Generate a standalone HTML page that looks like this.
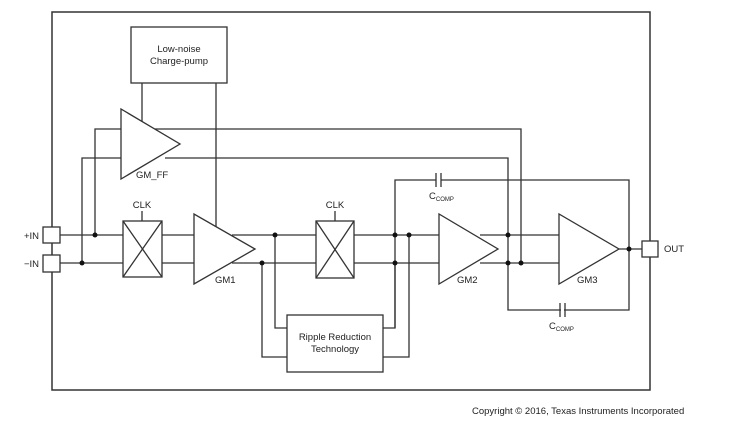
<!DOCTYPE html>
<html><head><style>body{margin:0;background:#fff}svg{display:block}text{font-family:"Liberation Sans",sans-serif;fill:#222}</style></head><body>
<svg width="734" height="437" viewBox="0 0 734 437" xmlns="http://www.w3.org/2000/svg">
<g fill="none" stroke="#333" stroke-width="1.3">
<rect x="52" y="12" width="598" height="378" stroke-width="1.5"/>
<rect x="131" y="27" width="96" height="56"/>
<line x1="142" y1="83" x2="142" y2="121"/>
<line x1="216" y1="83" x2="216" y2="228"/>
<!-- GM_FF -->
<polygon points="121,109 121,179 180,144" fill="#fff"/>
<polyline points="95,235 95,129 121,129"/>
<polyline points="82,263 82,158 121,158"/>
<polyline points="155,129 521,129 521,263"/>
<polyline points="165,158 508,158 508,310 629,310 629,249"/>
<!-- inputs -->
<line x1="60" y1="235" x2="123" y2="235"/>
<line x1="60" y1="263" x2="123" y2="263"/>
<rect x="43" y="227" width="17" height="16" fill="#fff"/>
<rect x="43" y="255" width="17" height="17" fill="#fff"/>
<!-- CLK1 -->
<rect x="123" y="221" width="39" height="56"/>
<line x1="123" y1="221" x2="162" y2="277"/><line x1="162" y1="221" x2="123" y2="277"/>
<line x1="142" y1="211" x2="142" y2="221"/>
<line x1="162" y1="235" x2="194" y2="235"/><line x1="162" y1="263" x2="194" y2="263"/>
<!-- GM1 -->
<polygon points="194,214 194,284 255,249" fill="#fff"/>
<line x1="232" y1="235" x2="316" y2="235"/><line x1="232" y1="263" x2="316" y2="263"/>
<polyline points="275,235 275,328 287,328"/>
<polyline points="262,263 262,357 287,357"/>
<!-- CLK2 -->
<rect x="316" y="221" width="38" height="57"/>
<line x1="316" y1="221" x2="354" y2="278"/><line x1="354" y1="221" x2="316" y2="278"/>
<line x1="335" y1="211" x2="335" y2="221"/>
<line x1="354" y1="235" x2="439" y2="235"/><line x1="354" y1="263" x2="439" y2="263"/>
<polyline points="383,328 395,328 395,180 436,180"/>
<polyline points="441,180 629,180 629,249"/>
<line x1="436" y1="173" x2="436" y2="187"/><line x1="441" y1="173" x2="441" y2="187"/>
<polyline points="383,357 409,357 409,235"/>
<line x1="395" y1="263" x2="395" y2="328"/>
<rect x="287" y="315" width="96" height="57"/>
<!-- GM2 -->
<polygon points="439,214 439,284 498,249" fill="#fff"/>
<line x1="480" y1="235" x2="559" y2="235"/><line x1="480" y1="263" x2="559" y2="263"/>
<polygon points="559,214 559,284 619,249" fill="#fff"/>
<line x1="619" y1="249" x2="642" y2="249"/>
<rect x="642" y="241" width="16" height="16" fill="#fff"/>
<line x1="560" y1="303" x2="560" y2="317" /><line x1="565" y1="303" x2="565" y2="317"/>
</g>
<rect x="561" y="304" width="3" height="12" fill="#fff"/>
<g fill="#111">
<circle cx="95" cy="235" r="2.5"/><circle cx="82" cy="263" r="2.5"/>
<circle cx="275" cy="235" r="2.5"/><circle cx="262" cy="263" r="2.5"/>
<circle cx="395" cy="235" r="2.5"/><circle cx="409" cy="235" r="2.5"/><circle cx="395" cy="263" r="2.5"/>
<circle cx="508" cy="235" r="2.5"/><circle cx="508" cy="263" r="2.5"/><circle cx="521" cy="263" r="2.5"/>
<circle cx="629" cy="249" r="2.5"/>
</g>
<g font-size="9.5">
<text x="179" y="52" text-anchor="middle">Low-noise</text>
<text x="179" y="64" text-anchor="middle">Charge-pump</text>
<text x="136" y="178">GM_FF</text>
<text x="142" y="208" text-anchor="middle">CLK</text>
<text x="335" y="208" text-anchor="middle">CLK</text>
<text x="215" y="283">GM1</text>
<text x="457" y="283">GM2</text>
<text x="577" y="283">GM3</text>
<text x="24" y="239">+IN</text>
<text x="24" y="267">−IN</text>
<text x="664" y="252">OUT</text>
<text x="335" y="340" text-anchor="middle">Ripple Reduction</text>
<text x="335" y="352" text-anchor="middle">Technology</text>
<text x="429" y="199">C<tspan font-size="6" dy="2">COMP</tspan></text>
<text x="549" y="329">C<tspan font-size="6" dy="2">COMP</tspan></text>
<text x="472" y="414">Copyright © 2016, Texas Instruments Incorporated</text>
</g>
</svg>
</body></html>
